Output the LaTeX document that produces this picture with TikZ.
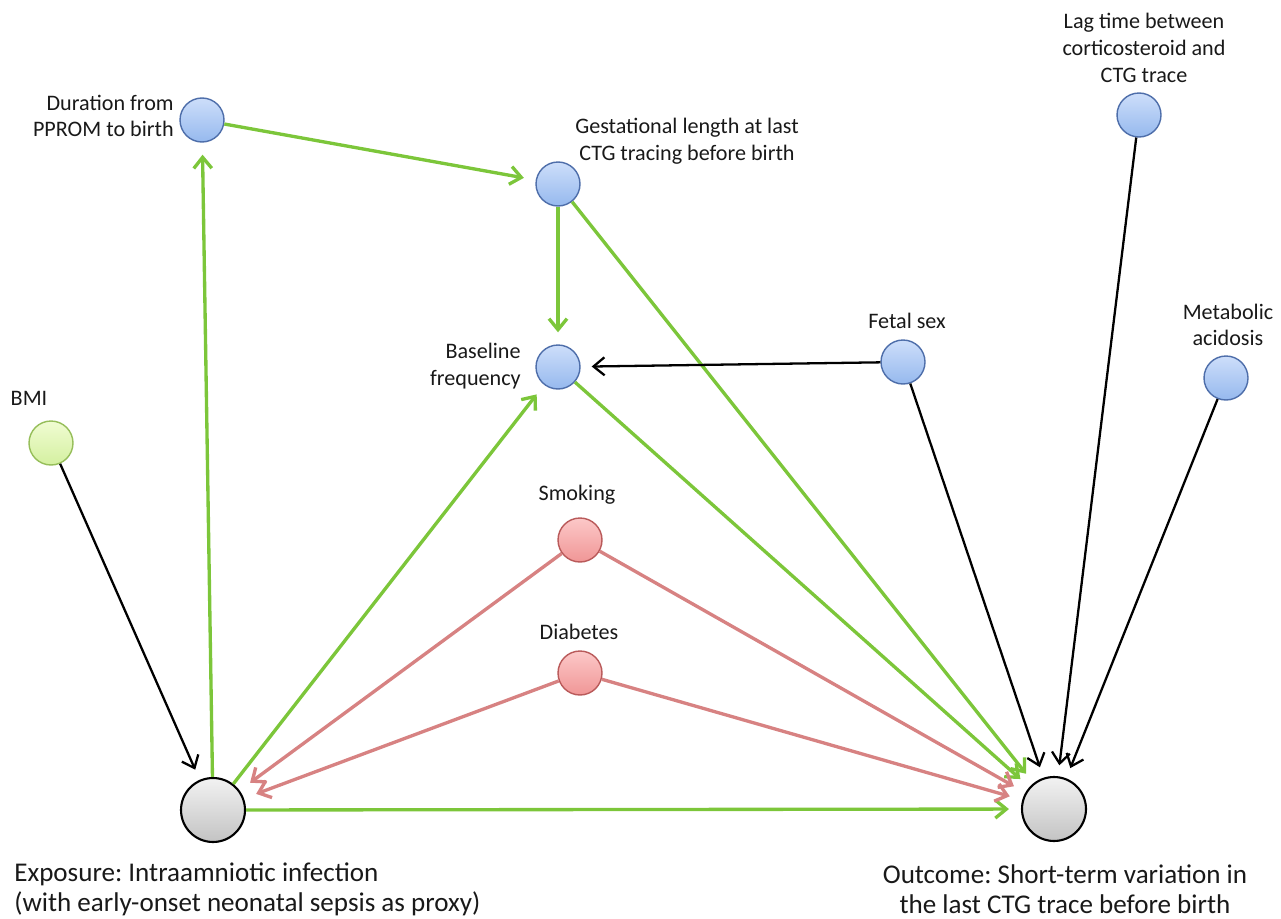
\documentclass[tikz,border=0pt]{standalone}
\usepackage{fontspec}
\setmainfont{Carlito}
\usetikzlibrary{arrows.meta}
\definecolor{grn}{RGB}{124,198,58}
\definecolor{rd}{RGB}{215,130,130}
\definecolor{bluetop}{RGB}{205,222,250}
\definecolor{bluebot}{RGB}{150,185,238}
\definecolor{blueedge}{RGB}{78,110,170}
\definecolor{redtop}{RGB}{252,200,200}
\definecolor{redbot}{RGB}{240,150,150}
\definecolor{rededge}{RGB}{185,90,90}
\definecolor{gtop}{RGB}{240,252,210}
\definecolor{gbot}{RGB}{212,240,160}
\definecolor{gedge}{RGB}{150,190,90}
\definecolor{graytop}{RGB}{242,242,242}
\definecolor{graybot}{RGB}{195,195,195}
\definecolor{txt}{RGB}{25,25,25}
\tikzset{
  var/.style={circle, minimum size=0.88cm, inner sep=0pt, line width=0.8pt},
  bluevar/.style={var, draw=blueedge, top color=bluetop, bottom color=bluebot},
  redvar/.style={var, draw=rededge, top color=redtop, bottom color=redbot},
  grnvar/.style={var, draw=gedge, top color=gtop, bottom color=gbot},
  mainvar/.style={circle, minimum size=1.28cm, inner sep=0pt, line width=1.2pt, draw=black, top color=graytop, bottom color=graybot},
  lbl/.style={font=\fontsize{12.6}{15.2}\selectfont, inner sep=0pt, text=txt},
  biglbl/.style={font=\fontsize{15.4}{17.2}\selectfont, inner sep=0pt, text=txt},
  garr/.style={draw=grn, line width=1.9pt, -{Straight Barb[length=2.2mm,width=3.6mm]}, shorten >=0.24cm},
  rarr/.style={draw=rd, line width=1.9pt, -{Straight Barb[length=2.2mm,width=3.6mm]}, shorten >=0.26cm},
  karr/.style={draw=black, line width=1.3pt, -{Straight Barb[length=2.2mm,width=3.6mm]}, shorten >=0.22cm},
}
\frenchspacing
\begin{document}
\begin{tikzpicture}[x=0.02cm, y=-0.02cm]
\useasboundingbox (0,0) rectangle (1281,919);
% variables
\node[bluevar] (dur) at (202,120) {};
\node[bluevar] (ges) at (558,184) {};
\node[bluevar] (bas) at (558,367) {};
\node[bluevar] (fet) at (903,362) {};
\node[bluevar] (lag) at (1139,115) {};
\node[bluevar] (met) at (1226,378) {};
\node[grnvar] (bmi) at (51,443) {};
\node[redvar] (smk) at (580,540) {};
\node[redvar] (dia) at (580,673) {};
\node[mainvar] (exp) at (213,810) {};
\node[mainvar] (out) at (1054,809) {};
% labels
\node[lbl, anchor=east, align=right] (durL) at (174,116) {Duration from\\PPROM to birth};
\node[lbl, align=center] (gesL) at (687,141) {Gestational length at last\\CTG tracing before birth};
\node[lbl, anchor=east, align=right] (basL) at (521,366) {Baseline\\frequency};
\node[lbl] (fetL) at (907,321) {Fetal sex};
\node[lbl, align=center] (lagL) at (1144,48) {Lag time between\\corticosteroid and\\CTG trace};
\node[lbl, align=center] (metL) at (1228,325) {Metabolic\\acidosis};
\node[lbl] (bmiL) at (29,398) {BMI};
\node[lbl] (smkL) at (577,495) {Smoking};
\node[lbl] (diaL) at (579,632) {Diabetes};
\node[biglbl, anchor=west, align=left] (expL) at (14,889) {Exposure: Intraamniotic infection\\(with early-onset neonatal sepsis as proxy)};
\node[biglbl, align=center] (outL) at (1065,889) {Outcome: Short-term variation in\\the last CTG trace before birth};
% green paths
\draw[garr] (exp) -- (dur);
\draw[garr] (dur) -- (ges);
\draw[garr] (ges) -- (bas);
\draw[garr] (ges) -- (out);
\draw[garr] (exp) -- (bas);
\draw[garr] (bas) -- (out);
\draw[garr] (exp) -- (out);
% red paths
\draw[rarr] (smk) -- (exp);
\draw[rarr] (smk) -- (out);
\draw[rarr] (dia) -- (exp);
\draw[rarr] (dia) -- (out);
% black paths
\draw[karr] (fet) -- (bas);
\draw[karr] (fet) -- (out);
\draw[karr] (lag) -- (out);
\draw[karr] (met) -- (out);
\draw[karr] (bmi) -- (exp);
\end{tikzpicture}
\end{document}
